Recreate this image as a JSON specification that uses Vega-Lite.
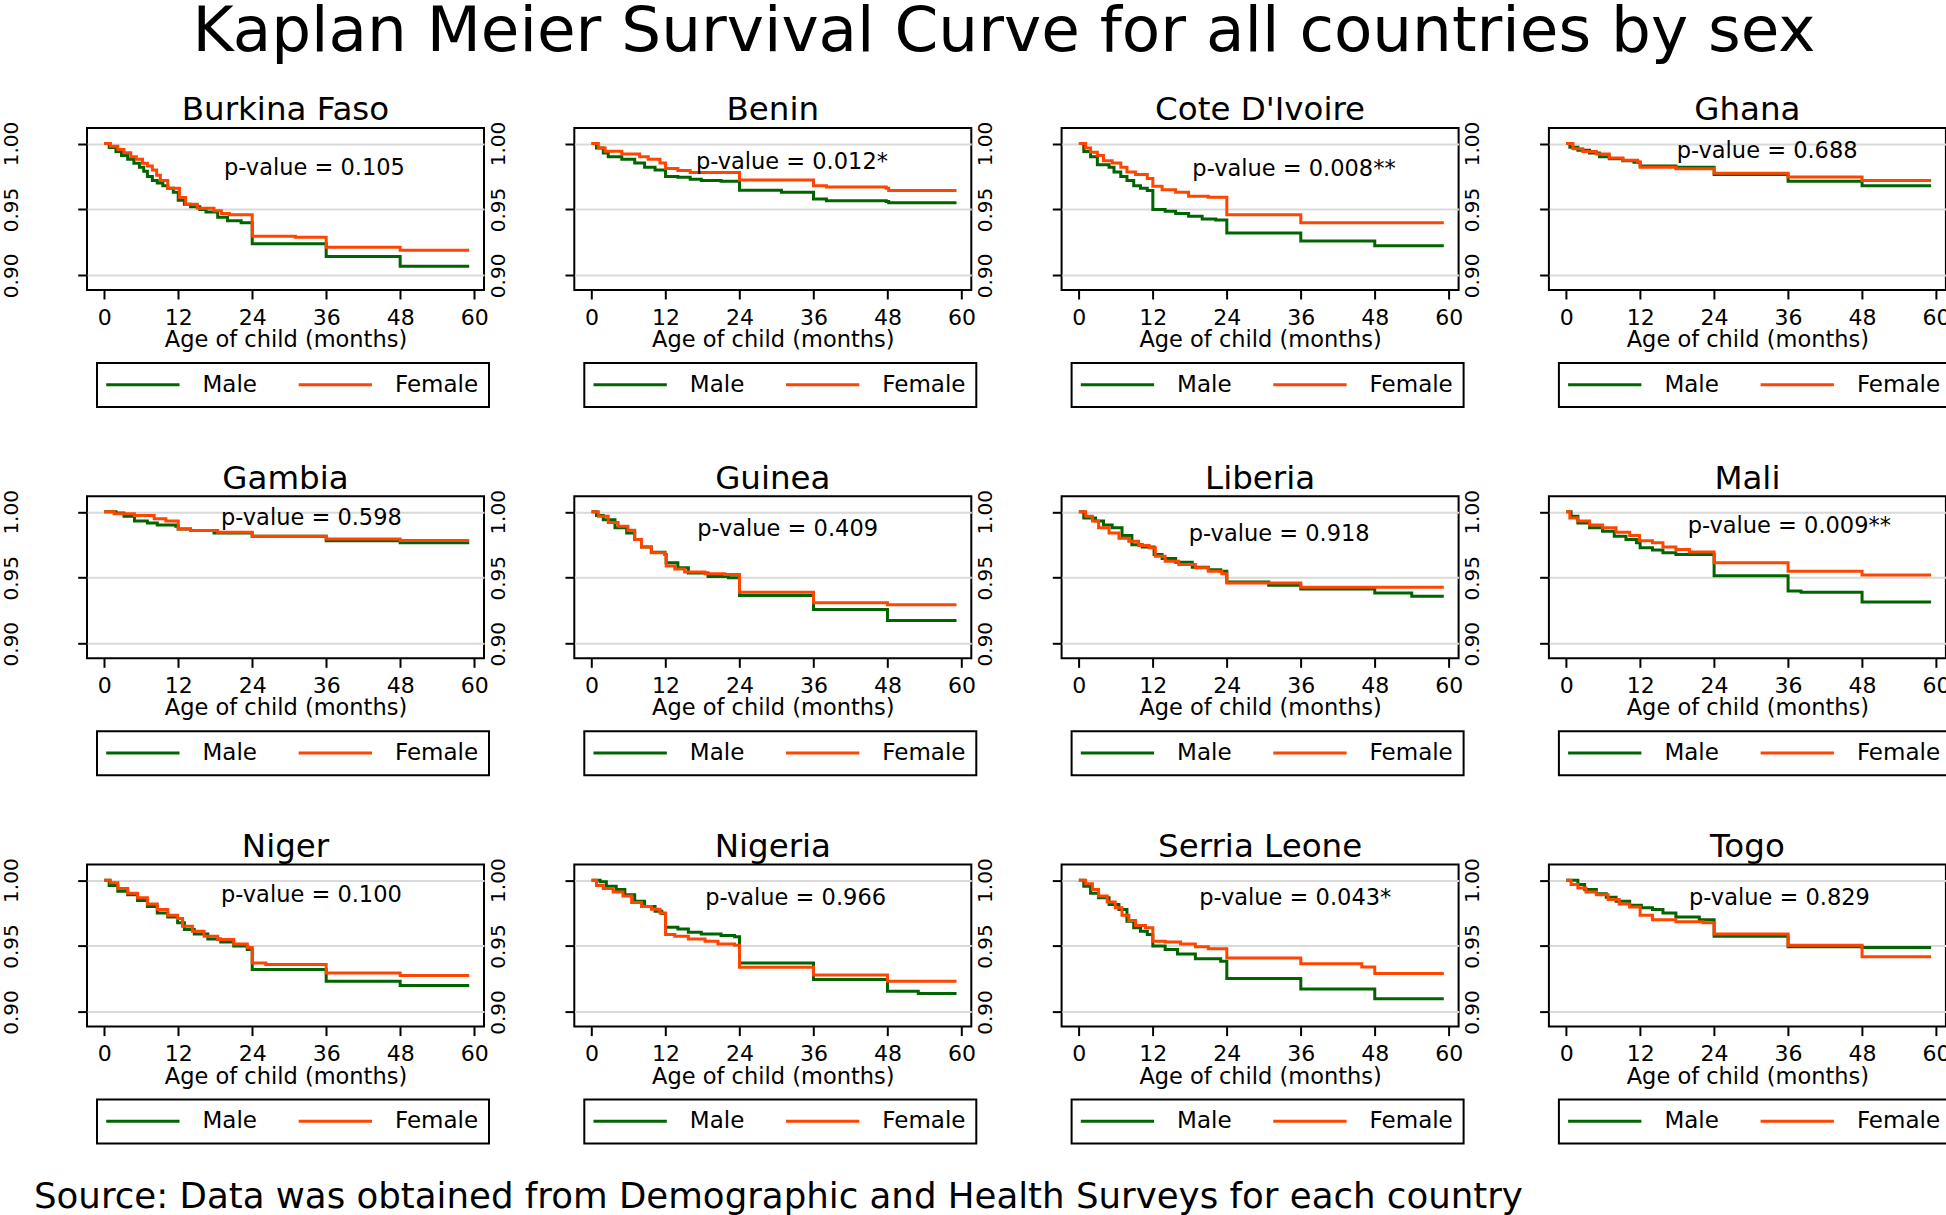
{
"$schema": "https://vega.github.io/schema/vega-lite/v6.json",
"background": "white",
"padding": {"left": 0, "top": 0, "right": 0, "bottom": 0},
"title": {"text": "Kaplan Meier Survival Curve for all countries by sex", "fontSize": 62.8, "font": "DejaVu Sans", "fontWeight": "normal", "anchor": "middle", "frame": "bounds", "dx": 27.6, "offset": -20.5, "baseline": "alphabetic"},
"spacing": 20,
"vconcat": [
{
"columns": 4,
"spacing": {"column": 90.3, "row": 206.3},
"bounds": "flush",
"resolve": {"scale": {"color": "independent"}, "legend": {"color": "independent"}},
"concat": [
{"title": "Burkina Faso", "width": 397, "height": 162, "layer": [
{"data": {"values": [
{"sex":"Male","month":0,"surv":1},{"sex":"Male","month":0.8,"surv":0.997},{"sex":"Male","month":1.9,"surv":0.994},{"sex":"Male","month":2.8,"surv":0.991},{"sex":"Male","month":3.8,"surv":0.988},{"sex":"Male","month":4.8,"surv":0.985},{"sex":"Male","month":5.7,"surv":0.982},{"sex":"Male","month":6.4,"surv":0.979},{"sex":"Male","month":7.0,"surv":0.975},{"sex":"Male","month":7.8,"surv":0.972},{"sex":"Male","month":8.6,"surv":0.970},{"sex":"Male","month":9.5,"surv":0.968},{"sex":"Male","month":10.3,"surv":0.966},{"sex":"Male","month":11.2,"surv":0.963},{"sex":"Male","month":12.0,"surv":0.957},{"sex":"Male","month":13.0,"surv":0.954},{"sex":"Male","month":14.0,"surv":0.952},{"sex":"Male","month":15.5,"surv":0.950},{"sex":"Male","month":16.5,"surv":0.948},{"sex":"Male","month":18.4,"surv":0.944},{"sex":"Male","month":20.0,"surv":0.9415},{"sex":"Male","month":22.2,"surv":0.940},{"sex":"Male","month":24.0,"surv":0.924},{"sex":"Male","month":36.0,"surv":0.9144},{"sex":"Male","month":48.0,"surv":0.907},{"sex":"Male","month":59.2,"surv":0.907},
{"sex":"Female","month":0,"surv":1},{"sex":"Female","month":1.0,"surv":0.998},{"sex":"Female","month":2.2,"surv":0.9954},{"sex":"Female","month":3.2,"surv":0.993},{"sex":"Female","month":4.3,"surv":0.990},{"sex":"Female","month":5.2,"surv":0.988},{"sex":"Female","month":6.2,"surv":0.985},{"sex":"Female","month":7.0,"surv":0.983},{"sex":"Female","month":7.8,"surv":0.980},{"sex":"Female","month":8.5,"surv":0.976},{"sex":"Female","month":9.1,"surv":0.972},{"sex":"Female","month":10.3,"surv":0.966},{"sex":"Female","month":12.2,"surv":0.959},{"sex":"Female","month":13.2,"surv":0.954},{"sex":"Female","month":15.1,"surv":0.951},{"sex":"Female","month":17.8,"surv":0.949},{"sex":"Female","month":19.0,"surv":0.947},{"sex":"Female","month":20.3,"surv":0.946},{"sex":"Female","month":24.0,"surv":0.9296},{"sex":"Female","month":31.0,"surv":0.929},{"sex":"Female","month":36.0,"surv":0.9213},{"sex":"Female","month":48.0,"surv":0.919},{"sex":"Female","month":59.2,"surv":0.919}
]},
"mark": {"type": "line", "interpolate": "step-after", "strokeWidth": 3},
"encoding": {
"x": {"field": "month", "type": "quantitative", "scale": {"domain": [-2.8, 61.6], "nice": false, "zero": false}, "axis": {"values": [0,12,24,36,48,60], "title": "Age of child (months)"}},
"y": {"field": "surv", "type": "quantitative", "scale": {"domain": [0.8889, 1.0118], "nice": false, "zero": false}, "axis": {"values": [0.9,0.95,1.0], "format": ".2f", "title": null}},
"color": {"field": "sex", "type": "nominal", "scale": {"domain": ["Male","Female"], "range": ["#006400","#FF4500"]}, "legend": {"title": null, "orient": "none", "legendX": 10, "legendY": 235, "direction": "horizontal"}}}},
{"data": {"values": [{"month": 34.1, "surv": 0.9765, "label": "p-value = 0.105"}]}, "mark": {"type": "text", "baseline": "alphabetic", "align": "center"}, "encoding": {"x": {"field": "month", "type": "quantitative"}, "y": {"field": "surv", "type": "quantitative"}, "text": {"field": "label"}}}
]},
{"title": "Benin", "width": 397, "height": 162, "layer": [
{"data": {"values": [
{"sex":"Male","month":0,"surv":1},{"sex":"Male","month":0.8,"surv":0.9967},{"sex":"Male","month":1.9,"surv":0.9929},{"sex":"Male","month":2.7,"surv":0.990},{"sex":"Male","month":4.9,"surv":0.988},{"sex":"Male","month":7.0,"surv":0.9853},{"sex":"Male","month":8.6,"surv":0.982},{"sex":"Male","month":10.3,"surv":0.980},{"sex":"Male","month":12.0,"surv":0.975},{"sex":"Male","month":14.0,"surv":0.9744},{"sex":"Male","month":16.0,"surv":0.973},{"sex":"Male","month":17.8,"surv":0.972},{"sex":"Male","month":21.0,"surv":0.9714},{"sex":"Male","month":24.0,"surv":0.9646},{"sex":"Male","month":30.8,"surv":0.963},{"sex":"Male","month":36.0,"surv":0.958},{"sex":"Male","month":38.1,"surv":0.9567},{"sex":"Male","month":47.8,"surv":0.956},{"sex":"Male","month":48.2,"surv":0.955},{"sex":"Male","month":59.2,"surv":0.955},
{"sex":"Female","month":0,"surv":1},{"sex":"Female","month":1.1,"surv":0.9967},{"sex":"Female","month":2.2,"surv":0.9942},{"sex":"Female","month":4.9,"surv":0.992},{"sex":"Female","month":7.8,"surv":0.990},{"sex":"Female","month":9.2,"surv":0.988},{"sex":"Female","month":11.1,"surv":0.9853},{"sex":"Female","month":12.0,"surv":0.981},{"sex":"Female","month":14.0,"surv":0.9795},{"sex":"Female","month":16.0,"surv":0.978},{"sex":"Female","month":24.0,"surv":0.9724},{"sex":"Female","month":36.0,"surv":0.968},{"sex":"Female","month":38.1,"surv":0.967},{"sex":"Female","month":47.8,"surv":0.966},{"sex":"Female","month":48.2,"surv":0.9643},{"sex":"Female","month":59.2,"surv":0.9643}
]},
"mark": {"type": "line", "interpolate": "step-after", "strokeWidth": 3},
"encoding": {
"x": {"field": "month", "type": "quantitative", "scale": {"domain": [-2.8, 61.6], "nice": false, "zero": false}, "axis": {"values": [0,12,24,36,48,60], "title": "Age of child (months)"}},
"y": {"field": "surv", "type": "quantitative", "scale": {"domain": [0.8889, 1.0118], "nice": false, "zero": false}, "axis": {"values": [0.9,0.95,1.0], "format": ".2f", "title": null}},
"color": {"field": "sex", "type": "nominal", "scale": {"domain": ["Male","Female"], "range": ["#006400","#FF4500"]}, "legend": {"title": null, "orient": "none", "legendX": 10, "legendY": 235, "direction": "horizontal"}}}},
{"data": {"values": [{"month": 32.5, "surv": 0.981, "label": "p-value = 0.012*"}]}, "mark": {"type": "text", "baseline": "alphabetic", "align": "center"}, "encoding": {"x": {"field": "month", "type": "quantitative"}, "y": {"field": "surv", "type": "quantitative"}, "text": {"field": "label"}}}
]},
{"title": "Cote D'Ivoire", "width": 397, "height": 162, "layer": [
{"data": {"values": [
{"sex":"Male","month":0,"surv":1},{"sex":"Male","month":0.8,"surv":0.994},{"sex":"Male","month":1.9,"surv":0.990},{"sex":"Male","month":3.0,"surv":0.984},{"sex":"Male","month":4.9,"surv":0.982},{"sex":"Male","month":5.7,"surv":0.9785},{"sex":"Male","month":6.8,"surv":0.975},{"sex":"Male","month":7.8,"surv":0.972},{"sex":"Male","month":8.9,"surv":0.968},{"sex":"Male","month":10.0,"surv":0.966},{"sex":"Male","month":11.1,"surv":0.9643},{"sex":"Male","month":12.0,"surv":0.950},{"sex":"Male","month":14.0,"surv":0.9486},{"sex":"Male","month":15.7,"surv":0.947},{"sex":"Male","month":17.8,"surv":0.9448},{"sex":"Male","month":20.0,"surv":0.9428},{"sex":"Male","month":22.2,"surv":0.942},{"sex":"Male","month":24.0,"surv":0.9322},{"sex":"Male","month":36.0,"surv":0.926},{"sex":"Male","month":48.0,"surv":0.9225},{"sex":"Male","month":59.2,"surv":0.9225},
{"sex":"Female","month":0,"surv":1},{"sex":"Female","month":1.1,"surv":0.9967},{"sex":"Female","month":1.9,"surv":0.9934},{"sex":"Female","month":3.0,"surv":0.991},{"sex":"Female","month":4.0,"surv":0.987},{"sex":"Female","month":5.4,"surv":0.9853},{"sex":"Female","month":6.8,"surv":0.982},{"sex":"Female","month":7.8,"surv":0.9785},{"sex":"Female","month":9.2,"surv":0.9765},{"sex":"Female","month":11.1,"surv":0.9734},{"sex":"Female","month":12.0,"surv":0.9676},{"sex":"Female","month":13.5,"surv":0.965},{"sex":"Female","month":15.7,"surv":0.963},{"sex":"Female","month":17.8,"surv":0.960},{"sex":"Female","month":21.0,"surv":0.9592},{"sex":"Female","month":24.0,"surv":0.946},{"sex":"Female","month":36.0,"surv":0.940},{"sex":"Female","month":59.2,"surv":0.940}
]},
"mark": {"type": "line", "interpolate": "step-after", "strokeWidth": 3},
"encoding": {
"x": {"field": "month", "type": "quantitative", "scale": {"domain": [-2.8, 61.6], "nice": false, "zero": false}, "axis": {"values": [0,12,24,36,48,60], "title": "Age of child (months)"}},
"y": {"field": "surv", "type": "quantitative", "scale": {"domain": [0.8889, 1.0118], "nice": false, "zero": false}, "axis": {"values": [0.9,0.95,1.0], "format": ".2f", "title": null}},
"color": {"field": "sex", "type": "nominal", "scale": {"domain": ["Male","Female"], "range": ["#006400","#FF4500"]}, "legend": {"title": null, "orient": "none", "legendX": 10, "legendY": 235, "direction": "horizontal"}}}},
{"data": {"values": [{"month": 34.9, "surv": 0.9752, "label": "p-value = 0.008**"}]}, "mark": {"type": "text", "baseline": "alphabetic", "align": "center"}, "encoding": {"x": {"field": "month", "type": "quantitative"}, "y": {"field": "surv", "type": "quantitative"}, "text": {"field": "label"}}}
]},
{"title": "Ghana", "width": 397, "height": 162, "layer": [
{"data": {"values": [
{"sex":"Male","month":0,"surv":1},{"sex":"Male","month":0.6,"surv":0.9972},{"sex":"Male","month":1.9,"surv":0.995},{"sex":"Male","month":3.8,"surv":0.9929},{"sex":"Male","month":5.4,"surv":0.990},{"sex":"Male","month":7.0,"surv":0.9884},{"sex":"Male","month":9.2,"surv":0.987},{"sex":"Male","month":11.0,"surv":0.9858},{"sex":"Male","month":12.0,"surv":0.983},{"sex":"Male","month":17.8,"surv":0.982},{"sex":"Male","month":24.0,"surv":0.9765},{"sex":"Male","month":36.0,"surv":0.9714},{"sex":"Male","month":48.0,"surv":0.968},{"sex":"Male","month":59.2,"surv":0.968},
{"sex":"Female","month":0,"surv":1},{"sex":"Female","month":1.1,"surv":0.996},{"sex":"Female","month":2.7,"surv":0.994},{"sex":"Female","month":4.9,"surv":0.992},{"sex":"Female","month":7.0,"surv":0.989},{"sex":"Female","month":9.2,"surv":0.9873},{"sex":"Female","month":11.6,"surv":0.986},{"sex":"Female","month":12.0,"surv":0.982},{"sex":"Female","month":17.8,"surv":0.9808},{"sex":"Female","month":24.0,"surv":0.9775},{"sex":"Female","month":36.0,"surv":0.9747},{"sex":"Female","month":48.0,"surv":0.972},{"sex":"Female","month":59.2,"surv":0.972}
]},
"mark": {"type": "line", "interpolate": "step-after", "strokeWidth": 3},
"encoding": {
"x": {"field": "month", "type": "quantitative", "scale": {"domain": [-2.8, 61.6], "nice": false, "zero": false}, "axis": {"values": [0,12,24,36,48,60], "title": "Age of child (months)"}},
"y": {"field": "surv", "type": "quantitative", "scale": {"domain": [0.8889, 1.0118], "nice": false, "zero": false}, "axis": {"values": [0.9,0.95,1.0], "format": ".2f", "title": null}},
"color": {"field": "sex", "type": "nominal", "scale": {"domain": ["Male","Female"], "range": ["#006400","#FF4500"]}, "legend": {"title": null, "orient": "none", "legendX": 10, "legendY": 235, "direction": "horizontal"}}}},
{"data": {"values": [{"month": 32.6, "surv": 0.9891, "label": "p-value = 0.688"}]}, "mark": {"type": "text", "baseline": "alphabetic", "align": "center"}, "encoding": {"x": {"field": "month", "type": "quantitative"}, "y": {"field": "surv", "type": "quantitative"}, "text": {"field": "label"}}}
]},
{"title": "Gambia", "width": 397, "height": 162, "layer": [
{"data": {"values": [
{"sex":"Male","month":0,"surv":1},{"sex":"Male","month":1.9,"surv":0.9992},{"sex":"Male","month":3.2,"surv":0.9967},{"sex":"Male","month":4.9,"surv":0.993},{"sex":"Male","month":7.0,"surv":0.9916},{"sex":"Male","month":8.6,"surv":0.990},{"sex":"Male","month":11.6,"surv":0.9891},{"sex":"Male","month":12.0,"surv":0.987},{"sex":"Male","month":14.0,"surv":0.9858},{"sex":"Male","month":17.8,"surv":0.984},{"sex":"Male","month":24.0,"surv":0.9815},{"sex":"Male","month":36.0,"surv":0.978},{"sex":"Male","month":48.0,"surv":0.9765},{"sex":"Male","month":59.2,"surv":0.9765},
{"sex":"Female","month":0,"surv":1},{"sex":"Female","month":1.6,"surv":0.9985},{"sex":"Female","month":4.9,"surv":0.9972},{"sex":"Female","month":8.1,"surv":0.9947},{"sex":"Female","month":10.0,"surv":0.993},{"sex":"Female","month":12.0,"surv":0.987},{"sex":"Female","month":14.0,"surv":0.9858},{"sex":"Female","month":18.4,"surv":0.9846},{"sex":"Female","month":24.0,"surv":0.9815},{"sex":"Female","month":36.0,"surv":0.9795},{"sex":"Female","month":48.0,"surv":0.9782},{"sex":"Female","month":59.2,"surv":0.9782}
]},
"mark": {"type": "line", "interpolate": "step-after", "strokeWidth": 3},
"encoding": {
"x": {"field": "month", "type": "quantitative", "scale": {"domain": [-2.8, 61.6], "nice": false, "zero": false}, "axis": {"values": [0,12,24,36,48,60], "title": "Age of child (months)"}},
"y": {"field": "surv", "type": "quantitative", "scale": {"domain": [0.8889, 1.0118], "nice": false, "zero": false}, "axis": {"values": [0.9,0.95,1.0], "format": ".2f", "title": null}},
"color": {"field": "sex", "type": "nominal", "scale": {"domain": ["Male","Female"], "range": ["#006400","#FF4500"]}, "legend": {"title": null, "orient": "none", "legendX": 10, "legendY": 235, "direction": "horizontal"}}}},
{"data": {"values": [{"month": 33.6, "surv": 0.9904, "label": "p-value = 0.598"}]}, "mark": {"type": "text", "baseline": "alphabetic", "align": "center"}, "encoding": {"x": {"field": "month", "type": "quantitative"}, "y": {"field": "surv", "type": "quantitative"}, "text": {"field": "label"}}}
]},
{"title": "Guinea", "width": 397, "height": 162, "layer": [
{"data": {"values": [
{"sex":"Male","month":0,"surv":1},{"sex":"Male","month":0.8,"surv":0.9972},{"sex":"Male","month":1.9,"surv":0.994},{"sex":"Male","month":3.8,"surv":0.988},{"sex":"Male","month":5.7,"surv":0.984},{"sex":"Male","month":7.0,"surv":0.979},{"sex":"Male","month":8.1,"surv":0.9734},{"sex":"Male","month":9.7,"surv":0.9694},{"sex":"Male","month":11.9,"surv":0.9676},{"sex":"Male","month":12.1,"surv":0.9613},{"sex":"Male","month":14.0,"surv":0.9575},{"sex":"Male","month":15.7,"surv":0.9537},{"sex":"Male","month":18.9,"surv":0.951},{"sex":"Male","month":22.2,"surv":0.950},{"sex":"Male","month":24.0,"surv":0.9365},{"sex":"Male","month":36.0,"surv":0.926},{"sex":"Male","month":48.0,"surv":0.9175},{"sex":"Male","month":59.2,"surv":0.9175},
{"sex":"Female","month":0,"surv":1},{"sex":"Female","month":1.1,"surv":0.9967},{"sex":"Female","month":2.7,"surv":0.992},{"sex":"Female","month":4.3,"surv":0.989},{"sex":"Female","month":5.9,"surv":0.986},{"sex":"Female","month":7.0,"surv":0.979},{"sex":"Female","month":8.1,"surv":0.9734},{"sex":"Female","month":9.7,"surv":0.969},{"sex":"Female","month":11.9,"surv":0.9676},{"sex":"Female","month":12.1,"surv":0.959},{"sex":"Female","month":13.5,"surv":0.9567},{"sex":"Female","month":15.1,"surv":0.9544},{"sex":"Female","month":18.4,"surv":0.953},{"sex":"Female","month":21.6,"surv":0.9524},{"sex":"Female","month":24.0,"surv":0.939},{"sex":"Female","month":36.0,"surv":0.931},{"sex":"Female","month":48.0,"surv":0.9296},{"sex":"Female","month":59.2,"surv":0.9296}
]},
"mark": {"type": "line", "interpolate": "step-after", "strokeWidth": 3},
"encoding": {
"x": {"field": "month", "type": "quantitative", "scale": {"domain": [-2.8, 61.6], "nice": false, "zero": false}, "axis": {"values": [0,12,24,36,48,60], "title": "Age of child (months)"}},
"y": {"field": "surv", "type": "quantitative", "scale": {"domain": [0.8889, 1.0118], "nice": false, "zero": false}, "axis": {"values": [0.9,0.95,1.0], "format": ".2f", "title": null}},
"color": {"field": "sex", "type": "nominal", "scale": {"domain": ["Male","Female"], "range": ["#006400","#FF4500"]}, "legend": {"title": null, "orient": "none", "legendX": 10, "legendY": 235, "direction": "horizontal"}}}},
{"data": {"values": [{"month": 31.8, "surv": 0.982, "label": "p-value = 0.409"}]}, "mark": {"type": "text", "baseline": "alphabetic", "align": "center"}, "encoding": {"x": {"field": "month", "type": "quantitative"}, "y": {"field": "surv", "type": "quantitative"}, "text": {"field": "label"}}}
]},
{"title": "Liberia", "width": 397, "height": 162, "layer": [
{"data": {"values": [
{"sex":"Male","month":0,"surv":1},{"sex":"Male","month":0.8,"surv":0.9954},{"sex":"Male","month":2.7,"surv":0.993},{"sex":"Male","month":4.0,"surv":0.990},{"sex":"Male","month":5.4,"surv":0.988},{"sex":"Male","month":7.0,"surv":0.982},{"sex":"Male","month":8.6,"surv":0.975},{"sex":"Male","month":10.3,"surv":0.9734},{"sex":"Male","month":12.2,"surv":0.9676},{"sex":"Male","month":13.5,"surv":0.9646},{"sex":"Male","month":15.7,"surv":0.9618},{"sex":"Male","month":18.4,"surv":0.958},{"sex":"Male","month":21.0,"surv":0.956},{"sex":"Male","month":23.0,"surv":0.955},{"sex":"Male","month":24.0,"surv":0.9468},{"sex":"Male","month":30.8,"surv":0.9443},{"sex":"Male","month":36.0,"surv":0.9415},{"sex":"Male","month":48.0,"surv":0.9385},{"sex":"Male","month":54.0,"surv":0.936},{"sex":"Male","month":59.2,"surv":0.936},
{"sex":"Female","month":0,"surv":1},{"sex":"Female","month":1.1,"surv":0.9967},{"sex":"Female","month":2.2,"surv":0.993},{"sex":"Female","month":3.2,"surv":0.988},{"sex":"Female","month":4.9,"surv":0.984},{"sex":"Female","month":6.5,"surv":0.980},{"sex":"Female","month":8.1,"surv":0.9777},{"sex":"Female","month":9.7,"surv":0.9744},{"sex":"Female","month":11.4,"surv":0.9727},{"sex":"Female","month":12.4,"surv":0.9663},{"sex":"Female","month":14.0,"surv":0.9625},{"sex":"Female","month":16.2,"surv":0.960},{"sex":"Female","month":18.9,"surv":0.9575},{"sex":"Female","month":21.0,"surv":0.955},{"sex":"Female","month":23.2,"surv":0.953},{"sex":"Female","month":24.0,"surv":0.946},{"sex":"Female","month":36.0,"surv":0.9428},{"sex":"Female","month":59.2,"surv":0.9428}
]},
"mark": {"type": "line", "interpolate": "step-after", "strokeWidth": 3},
"encoding": {
"x": {"field": "month", "type": "quantitative", "scale": {"domain": [-2.8, 61.6], "nice": false, "zero": false}, "axis": {"values": [0,12,24,36,48,60], "title": "Age of child (months)"}},
"y": {"field": "surv", "type": "quantitative", "scale": {"domain": [0.8889, 1.0118], "nice": false, "zero": false}, "axis": {"values": [0.9,0.95,1.0], "format": ".2f", "title": null}},
"color": {"field": "sex", "type": "nominal", "scale": {"domain": ["Male","Female"], "range": ["#006400","#FF4500"]}, "legend": {"title": null, "orient": "none", "legendX": 10, "legendY": 235, "direction": "horizontal"}}}},
{"data": {"values": [{"month": 32.5, "surv": 0.978, "label": "p-value = 0.918"}]}, "mark": {"type": "text", "baseline": "alphabetic", "align": "center"}, "encoding": {"x": {"field": "month", "type": "quantitative"}, "y": {"field": "surv", "type": "quantitative"}, "text": {"field": "label"}}}
]},
{"title": "Mali", "width": 397, "height": 162, "layer": [
{"data": {"values": [
{"sex":"Male","month":0,"surv":1},{"sex":"Male","month":0.8,"surv":0.9967},{"sex":"Male","month":1.9,"surv":0.9916},{"sex":"Male","month":3.8,"surv":0.988},{"sex":"Male","month":5.9,"surv":0.9853},{"sex":"Male","month":7.8,"surv":0.9815},{"sex":"Male","month":9.7,"surv":0.979},{"sex":"Male","month":11.4,"surv":0.9765},{"sex":"Male","month":12.0,"surv":0.9727},{"sex":"Male","month":14.0,"surv":0.971},{"sex":"Male","month":15.7,"surv":0.969},{"sex":"Male","month":17.8,"surv":0.9676},{"sex":"Male","month":24.0,"surv":0.9516},{"sex":"Male","month":36.0,"surv":0.940},{"sex":"Male","month":38.1,"surv":0.939},{"sex":"Male","month":48.0,"surv":0.9316},{"sex":"Male","month":59.2,"surv":0.9316},
{"sex":"Female","month":0,"surv":1},{"sex":"Female","month":0.6,"surv":0.9954},{"sex":"Female","month":1.9,"surv":0.993},{"sex":"Female","month":3.8,"surv":0.990},{"sex":"Female","month":5.9,"surv":0.988},{"sex":"Female","month":8.1,"surv":0.9846},{"sex":"Female","month":10.3,"surv":0.982},{"sex":"Female","month":11.9,"surv":0.978},{"sex":"Female","month":14.0,"surv":0.9765},{"sex":"Female","month":15.7,"surv":0.9734},{"sex":"Female","month":17.8,"surv":0.9714},{"sex":"Female","month":20.0,"surv":0.9696},{"sex":"Female","month":24.0,"surv":0.9613},{"sex":"Female","month":36.0,"surv":0.955},{"sex":"Female","month":48.0,"surv":0.952},{"sex":"Female","month":59.2,"surv":0.952}
]},
"mark": {"type": "line", "interpolate": "step-after", "strokeWidth": 3},
"encoding": {
"x": {"field": "month", "type": "quantitative", "scale": {"domain": [-2.8, 61.6], "nice": false, "zero": false}, "axis": {"values": [0,12,24,36,48,60], "title": "Age of child (months)"}},
"y": {"field": "surv", "type": "quantitative", "scale": {"domain": [0.8889, 1.0118], "nice": false, "zero": false}, "axis": {"values": [0.9,0.95,1.0], "format": ".2f", "title": null}},
"color": {"field": "sex", "type": "nominal", "scale": {"domain": ["Male","Female"], "range": ["#006400","#FF4500"]}, "legend": {"title": null, "orient": "none", "legendX": 10, "legendY": 235, "direction": "horizontal"}}}},
{"data": {"values": [{"month": 36.2, "surv": 0.984, "label": "p-value = 0.009**"}]}, "mark": {"type": "text", "baseline": "alphabetic", "align": "center"}, "encoding": {"x": {"field": "month", "type": "quantitative"}, "y": {"field": "surv", "type": "quantitative"}, "text": {"field": "label"}}}
]},
{"title": "Niger", "width": 397, "height": 162, "layer": [
{"data": {"values": [
{"sex":"Male","month":0,"surv":1},{"sex":"Male","month":0.8,"surv":0.996},{"sex":"Male","month":2.2,"surv":0.9916},{"sex":"Male","month":3.8,"surv":0.989},{"sex":"Male","month":5.4,"surv":0.9846},{"sex":"Male","month":7.0,"surv":0.980},{"sex":"Male","month":8.6,"surv":0.975},{"sex":"Male","month":10.3,"surv":0.972},{"sex":"Male","month":11.9,"surv":0.9676},{"sex":"Male","month":13.0,"surv":0.9625},{"sex":"Male","month":14.6,"surv":0.9592},{"sex":"Male","month":16.8,"surv":0.9554},{"sex":"Male","month":18.9,"surv":0.953},{"sex":"Male","month":21.0,"surv":0.950},{"sex":"Male","month":23.2,"surv":0.9473},{"sex":"Male","month":24.0,"surv":0.9322},{"sex":"Male","month":36.0,"surv":0.9233},{"sex":"Male","month":48.0,"surv":0.920},{"sex":"Male","month":59.2,"surv":0.920},
{"sex":"Female","month":0,"surv":1},{"sex":"Female","month":1.0,"surv":0.998},{"sex":"Female","month":2.2,"surv":0.9937},{"sex":"Female","month":3.8,"surv":0.990},{"sex":"Female","month":5.4,"surv":0.9866},{"sex":"Female","month":7.0,"surv":0.982},{"sex":"Female","month":8.6,"surv":0.9777},{"sex":"Female","month":10.3,"surv":0.9734},{"sex":"Female","month":11.9,"surv":0.971},{"sex":"Female","month":12.7,"surv":0.965},{"sex":"Female","month":14.3,"surv":0.9613},{"sex":"Female","month":16.2,"surv":0.9575},{"sex":"Female","month":18.4,"surv":0.955},{"sex":"Female","month":21.0,"surv":0.9516},{"sex":"Female","month":23.2,"surv":0.949},{"sex":"Female","month":24.0,"surv":0.9372},{"sex":"Female","month":26.2,"surv":0.936},{"sex":"Female","month":36.0,"surv":0.9296},{"sex":"Female","month":48.0,"surv":0.9276},{"sex":"Female","month":59.2,"surv":0.9276}
]},
"mark": {"type": "line", "interpolate": "step-after", "strokeWidth": 3},
"encoding": {
"x": {"field": "month", "type": "quantitative", "scale": {"domain": [-2.8, 61.6], "nice": false, "zero": false}, "axis": {"values": [0,12,24,36,48,60], "title": "Age of child (months)"}},
"y": {"field": "surv", "type": "quantitative", "scale": {"domain": [0.8889, 1.0118], "nice": false, "zero": false}, "axis": {"values": [0.9,0.95,1.0], "format": ".2f", "title": null}},
"color": {"field": "sex", "type": "nominal", "scale": {"domain": ["Male","Female"], "range": ["#006400","#FF4500"]}, "legend": {"title": null, "orient": "none", "legendX": 10, "legendY": 235, "direction": "horizontal"}}}},
{"data": {"values": [{"month": 33.6, "surv": 0.9835, "label": "p-value = 0.100"}]}, "mark": {"type": "text", "baseline": "alphabetic", "align": "center"}, "encoding": {"x": {"field": "month", "type": "quantitative"}, "y": {"field": "surv", "type": "quantitative"}, "text": {"field": "label"}}}
]},
{"title": "Nigeria", "width": 397, "height": 162, "layer": [
{"data": {"values": [
{"sex":"Male","month":0,"surv":1},{"sex":"Male","month":1.4,"surv":0.9987},{"sex":"Male","month":2.4,"surv":0.9954},{"sex":"Male","month":4.0,"surv":0.993},{"sex":"Male","month":5.4,"surv":0.989},{"sex":"Male","month":7.0,"surv":0.984},{"sex":"Male","month":8.6,"surv":0.980},{"sex":"Male","month":10.3,"surv":0.9765},{"sex":"Male","month":11.4,"surv":0.9747},{"sex":"Male","month":12.0,"surv":0.9643},{"sex":"Male","month":14.0,"surv":0.963},{"sex":"Male","month":15.7,"surv":0.9605},{"sex":"Male","month":17.8,"surv":0.9592},{"sex":"Male","month":21.0,"surv":0.958},{"sex":"Male","month":23.2,"surv":0.957},{"sex":"Male","month":24.0,"surv":0.9372},{"sex":"Male","month":36.0,"surv":0.9246},{"sex":"Male","month":48.0,"surv":0.9157},{"sex":"Male","month":53.0,"surv":0.914},{"sex":"Male","month":59.2,"surv":0.914},
{"sex":"Female","month":0,"surv":1},{"sex":"Female","month":0.8,"surv":0.996},{"sex":"Female","month":1.9,"surv":0.9937},{"sex":"Female","month":3.5,"surv":0.991},{"sex":"Female","month":5.1,"surv":0.988},{"sex":"Female","month":6.5,"surv":0.983},{"sex":"Female","month":8.1,"surv":0.980},{"sex":"Female","month":9.7,"surv":0.978},{"sex":"Female","month":11.1,"surv":0.975},{"sex":"Female","month":12.0,"surv":0.9587},{"sex":"Female","month":13.5,"surv":0.9575},{"sex":"Female","month":15.7,"surv":0.9554},{"sex":"Female","month":18.4,"surv":0.9537},{"sex":"Female","month":20.5,"surv":0.9516},{"sex":"Female","month":23.2,"surv":0.9506},{"sex":"Female","month":24.0,"surv":0.934},{"sex":"Female","month":36.0,"surv":0.928},{"sex":"Female","month":48.0,"surv":0.9233},{"sex":"Female","month":59.2,"surv":0.9233}
]},
"mark": {"type": "line", "interpolate": "step-after", "strokeWidth": 3},
"encoding": {
"x": {"field": "month", "type": "quantitative", "scale": {"domain": [-2.8, 61.6], "nice": false, "zero": false}, "axis": {"values": [0,12,24,36,48,60], "title": "Age of child (months)"}},
"y": {"field": "surv", "type": "quantitative", "scale": {"domain": [0.8889, 1.0118], "nice": false, "zero": false}, "axis": {"values": [0.9,0.95,1.0], "format": ".2f", "title": null}},
"color": {"field": "sex", "type": "nominal", "scale": {"domain": ["Male","Female"], "range": ["#006400","#FF4500"]}, "legend": {"title": null, "orient": "none", "legendX": 10, "legendY": 235, "direction": "horizontal"}}}},
{"data": {"values": [{"month": 33.1, "surv": 0.9808, "label": "p-value = 0.966"}]}, "mark": {"type": "text", "baseline": "alphabetic", "align": "center"}, "encoding": {"x": {"field": "month", "type": "quantitative"}, "y": {"field": "surv", "type": "quantitative"}, "text": {"field": "label"}}}
]},
{"title": "Serria Leone", "width": 397, "height": 162, "layer": [
{"data": {"values": [
{"sex":"Male","month":0,"surv":1},{"sex":"Male","month":0.8,"surv":0.9954},{"sex":"Male","month":1.9,"surv":0.990},{"sex":"Male","month":3.2,"surv":0.9866},{"sex":"Male","month":4.9,"surv":0.9815},{"sex":"Male","month":6.5,"surv":0.9777},{"sex":"Male","month":7.8,"surv":0.9689},{"sex":"Male","month":8.9,"surv":0.9638},{"sex":"Male","month":10.0,"surv":0.9613},{"sex":"Male","month":11.1,"surv":0.9587},{"sex":"Male","month":12.0,"surv":0.950},{"sex":"Male","month":14.0,"surv":0.9473},{"sex":"Male","month":16.0,"surv":0.944},{"sex":"Male","month":18.9,"surv":0.9403},{"sex":"Male","month":23.0,"surv":0.9385},{"sex":"Male","month":24.0,"surv":0.9253},{"sex":"Male","month":36.0,"surv":0.9175},{"sex":"Male","month":48.0,"surv":0.910},{"sex":"Male","month":59.2,"surv":0.910},
{"sex":"Female","month":0,"surv":1},{"sex":"Female","month":1.1,"surv":0.9972},{"sex":"Female","month":2.2,"surv":0.993},{"sex":"Female","month":3.2,"surv":0.988},{"sex":"Female","month":4.6,"surv":0.9835},{"sex":"Female","month":5.9,"surv":0.979},{"sex":"Female","month":7.0,"surv":0.9734},{"sex":"Female","month":8.1,"surv":0.9694},{"sex":"Female","month":9.2,"surv":0.9656},{"sex":"Female","month":10.8,"surv":0.9638},{"sex":"Female","month":12.0,"surv":0.9537},{"sex":"Female","month":14.0,"surv":0.953},{"sex":"Female","month":16.5,"surv":0.9516},{"sex":"Female","month":18.9,"surv":0.9494},{"sex":"Female","month":21.0,"surv":0.948},{"sex":"Female","month":24.0,"surv":0.941},{"sex":"Female","month":36.0,"surv":0.9365},{"sex":"Female","month":45.9,"surv":0.9342},{"sex":"Female","month":48.0,"surv":0.9291},{"sex":"Female","month":59.2,"surv":0.9291}
]},
"mark": {"type": "line", "interpolate": "step-after", "strokeWidth": 3},
"encoding": {
"x": {"field": "month", "type": "quantitative", "scale": {"domain": [-2.8, 61.6], "nice": false, "zero": false}, "axis": {"values": [0,12,24,36,48,60], "title": "Age of child (months)"}},
"y": {"field": "surv", "type": "quantitative", "scale": {"domain": [0.8889, 1.0118], "nice": false, "zero": false}, "axis": {"values": [0.9,0.95,1.0], "format": ".2f", "title": null}},
"color": {"field": "sex", "type": "nominal", "scale": {"domain": ["Male","Female"], "range": ["#006400","#FF4500"]}, "legend": {"title": null, "orient": "none", "legendX": 10, "legendY": 235, "direction": "horizontal"}}}},
{"data": {"values": [{"month": 35.1, "surv": 0.9808, "label": "p-value = 0.043*"}]}, "mark": {"type": "text", "baseline": "alphabetic", "align": "center"}, "encoding": {"x": {"field": "month", "type": "quantitative"}, "y": {"field": "surv", "type": "quantitative"}, "text": {"field": "label"}}}
]},
{"title": "Togo", "width": 397, "height": 162, "layer": [
{"data": {"values": [
{"sex":"Male","month":0,"surv":1},{"sex":"Male","month":1.9,"surv":0.9967},{"sex":"Male","month":3.0,"surv":0.993},{"sex":"Male","month":4.9,"surv":0.9896},{"sex":"Male","month":6.5,"surv":0.987},{"sex":"Male","month":8.1,"surv":0.984},{"sex":"Male","month":10.3,"surv":0.981},{"sex":"Male","month":12.2,"surv":0.979},{"sex":"Male","month":14.0,"surv":0.9777},{"sex":"Male","month":15.7,"surv":0.975},{"sex":"Male","month":17.8,"surv":0.972},{"sex":"Male","month":21.6,"surv":0.970},{"sex":"Male","month":24.0,"surv":0.9575},{"sex":"Male","month":36.0,"surv":0.9494},{"sex":"Male","month":48.0,"surv":0.949},{"sex":"Male","month":59.2,"surv":0.949},
{"sex":"Female","month":0,"surv":1},{"sex":"Female","month":0.8,"surv":0.9967},{"sex":"Female","month":1.9,"surv":0.994},{"sex":"Female","month":3.2,"surv":0.991},{"sex":"Female","month":4.9,"surv":0.989},{"sex":"Female","month":6.8,"surv":0.9853},{"sex":"Female","month":8.6,"surv":0.982},{"sex":"Female","month":10.3,"surv":0.9797},{"sex":"Female","month":12.0,"surv":0.9734},{"sex":"Female","month":14.0,"surv":0.970},{"sex":"Female","month":17.8,"surv":0.9684},{"sex":"Female","month":22.2,"surv":0.9676},{"sex":"Female","month":24.0,"surv":0.9592},{"sex":"Female","month":36.0,"surv":0.9506},{"sex":"Female","month":48.0,"surv":0.9418},{"sex":"Female","month":59.2,"surv":0.9418}
]},
"mark": {"type": "line", "interpolate": "step-after", "strokeWidth": 3},
"encoding": {
"x": {"field": "month", "type": "quantitative", "scale": {"domain": [-2.8, 61.6], "nice": false, "zero": false}, "axis": {"values": [0,12,24,36,48,60], "title": "Age of child (months)"}},
"y": {"field": "surv", "type": "quantitative", "scale": {"domain": [0.8889, 1.0118], "nice": false, "zero": false}, "axis": {"values": [0.9,0.95,1.0], "format": ".2f", "title": null}},
"color": {"field": "sex", "type": "nominal", "scale": {"domain": ["Male","Female"], "range": ["#006400","#FF4500"]}, "legend": {"title": null, "orient": "none", "legendX": 10, "legendY": 235, "direction": "horizontal"}}}},
{"data": {"values": [{"month": 34.6, "surv": 0.9808, "label": "p-value = 0.829"}]}, "mark": {"type": "text", "baseline": "alphabetic", "align": "center"}, "encoding": {"x": {"field": "month", "type": "quantitative"}, "y": {"field": "surv", "type": "quantitative"}, "text": {"field": "label"}}}
]}
]
},
{
"width": 1600, "height": 1,
"data": {"values": [{}]},
"mark": {"type": "text"},
"encoding": {"text": {"value": ""}},
"view": {"stroke": null},
"title": {"text": "Source: Data was obtained from Demographic and Health Surveys for each country", "orient": "bottom", "anchor": "start", "frame": "group", "fontSize": 35.6, "baseline": "alphabetic", "offset": 19, "dx": -53}
}
],
"config": {
"font": "DejaVu Sans",
"view": {"stroke": "black", "strokeWidth": 2},
"axis": {"domain": false, "tickColor": "black", "tickWidth": 2, "labelColor": "black", "titleColor": "black", "labelFont": "DejaVu Sans", "titleFont": "DejaVu Sans", "titleFontWeight": "normal"},
"axisX": {"grid": false, "tickSize": 9, "labelFontSize": 22, "labelPadding": 8, "titleFontSize": 22.5, "titlePadding": 0.5, "labelFlush": false, "labelOverlap": false},
"axisY": {"grid": true, "gridColor": "#d9d9d9", "gridWidth": 2, "tickSize": 9.3, "labelFontSize": 20, "labelAngle": 270, "labelAlign": "center", "labelBaseline": "bottom", "labelPadding": 56.7, "labelOverlap": false},
"title": {"font": "DejaVu Sans", "fontSize": 32.5, "fontWeight": "normal", "color": "black", "anchor": "middle", "frame": "group", "baseline": "alphabetic", "offset": -5.5},
"legend": {"symbolType": "M-1.23,0H6.1", "symbolSize": 400, "symbolStrokeWidth": 3, "labelFont": "DejaVu Sans", "labelFontSize": 23, "labelColor": "black", "labelOffset": 72.5, "columnPadding": 35.5, "padding": 10, "strokeColor": "black", "strokeWidth": 2, "labelLimit": 300},
"text": {"font": "DejaVu Sans", "fontSize": 22.5, "color": "black"}
}
}
